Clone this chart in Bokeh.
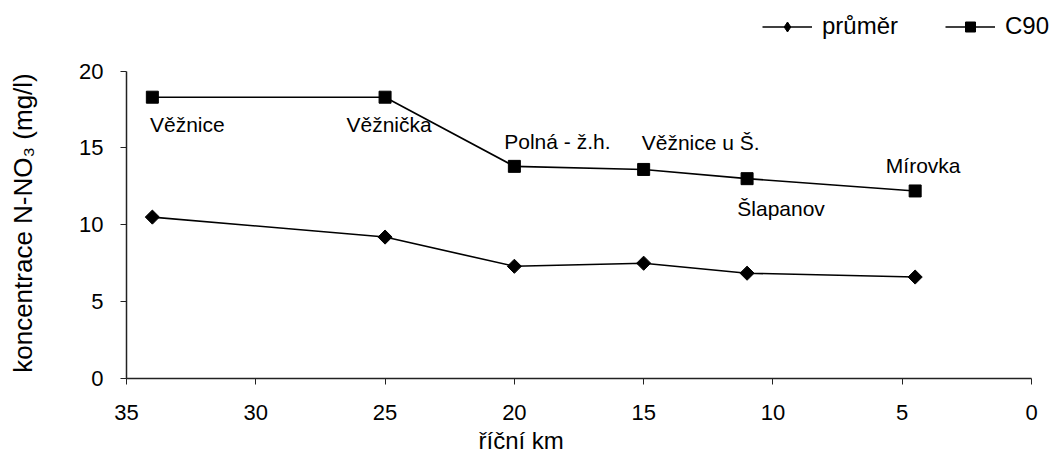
import math
from bokeh.plotting import figure
from bokeh.models import Range1d, FixedTicker, Legend, LegendItem, Title, ColumnDataSource
from bokeh.core.properties import value
from bokeh.embed import file_html
from bokeh.resources import INLINE

# ---- data ----
river_km = [34, 25, 20, 15, 11, 4.5]
prumer = [10.5, 9.2, 7.3, 7.5, 6.85, 6.6]
c90 = [18.3, 18.3, 13.8, 13.6, 13.0, 12.2]
site_names = ["Věžnice", "Věžnička", "Polná - ž.h.", "Věžnice u Š.", "Šlapanov", "Mírovka"]
x_ticks = [0, 5, 10, 15, 20, 25, 30, 35]
y_ticks = [0, 5, 10, 15, 20]

# ---- label placement (screen px offsets from C90 points) ----
label_dx = [35, 4, 43, 57, 34, 8]
label_dy = [27, 27, -25, -27, 30, -25]

FONT = "Liberation Sans"

# The (invisible) frame is extended beyond the axes so the legend at the top is not clipped;
# the axes themselves are bounded to 0-35 km and 0-20 mg/l.
p = figure(width=1055, height=459, output_backend="svg", toolbar_location=None,
           x_range=Range1d(35, -0.85), y_range=Range1d(0, 24.46),
           min_border_left=126, min_border_right=2, min_border_top=2, min_border_bottom=81)
p.outline_line_color = None
p.xgrid.visible = False
p.ygrid.visible = False
p.background_fill_color = "white"
p.border_fill_color = "white"

for ax in (p.xaxis[0], p.yaxis[0]):
    ax.major_tick_in = 0
    ax.major_tick_out = 6
    ax.minor_tick_in = 0
    ax.minor_tick_out = 0
    ax.axis_line_color = "#222222"
    ax.axis_line_width = 1.5
    ax.major_tick_line_color = "#222222"
    ax.major_label_text_font = FONT
    ax.major_label_text_font_size = "22px"
    ax.major_label_text_color = "black"
    ax.axis_label_text_font = FONT
    ax.axis_label_text_font_style = "normal"
    ax.axis_label_text_font_size = "26px"
    ax.axis_label_text_color = "black"

p.xaxis.ticker = FixedTicker(ticks=x_ticks)
p.yaxis.ticker = FixedTicker(ticks=y_ticks)
p.xaxis.bounds = (0, 35)
p.yaxis.bounds = (0, 20)
p.xaxis.major_label_standoff = 20
p.yaxis.major_label_standoff = 17
# trailing no-break spaces keep the title centred on the 0-20 axis rather than on the taller frame
p.yaxis.axis_label = "koncentrace N-NO₃ (mg/l)" + "\u00a0" * 9
p.yaxis.axis_label_standoff = 38

# x-axis title (offset to the left as in the original)
p.add_layout(Title(text="říční km", align="left", offset=352, text_font=FONT,
                   text_font_size="24px", text_font_style="normal",
                   text_color="black", standoff=4), "below")

r_pl = p.line(river_km, prumer, line_color="black", line_width=1.6)
# diamond used as the legend glyph; hidden under the rotated squares in the plot
r_pd = p.scatter(river_km, prumer, marker="diamond", size=9,
                 fill_color="black", line_color="black")
r_ps = p.scatter(river_km, prumer, marker="square", angle=math.pi / 4, size=10,
                 fill_color="black", line_color="black")
r_cl = p.line(river_km, c90, line_color="black", line_width=1.6)
r_cs = p.scatter(river_km, c90, marker="square", size=12,
                 fill_color="black", line_color="black")

src = ColumnDataSource(dict(x=river_km, y=c90, t=site_names, dx=label_dx, dy=label_dy))
p.text(x="x", y="y", text="t", x_offset="dx", y_offset="dy", source=src,
       text_font=value(FONT), text_font_size="21px", text_align="center",
       text_baseline="middle", text_color="black")

legend = Legend(items=[LegendItem(label="průměr", renderers=[r_pl, r_pd]),
                       LegendItem(label="C90", renderers=[r_cl, r_cs])],
                location=(636, 338), orientation="horizontal",
                glyph_width=50, glyph_height=25, label_height=25,
                label_standoff=10, spacing=47, padding=0, margin=0,
                border_line_color=None, background_fill_alpha=0,
                label_text_font=FONT, label_text_font_size="24px",
                label_text_color="black")
p.add_layout(legend, "center")

open("out.html", "w").write(file_html(p, INLINE))
